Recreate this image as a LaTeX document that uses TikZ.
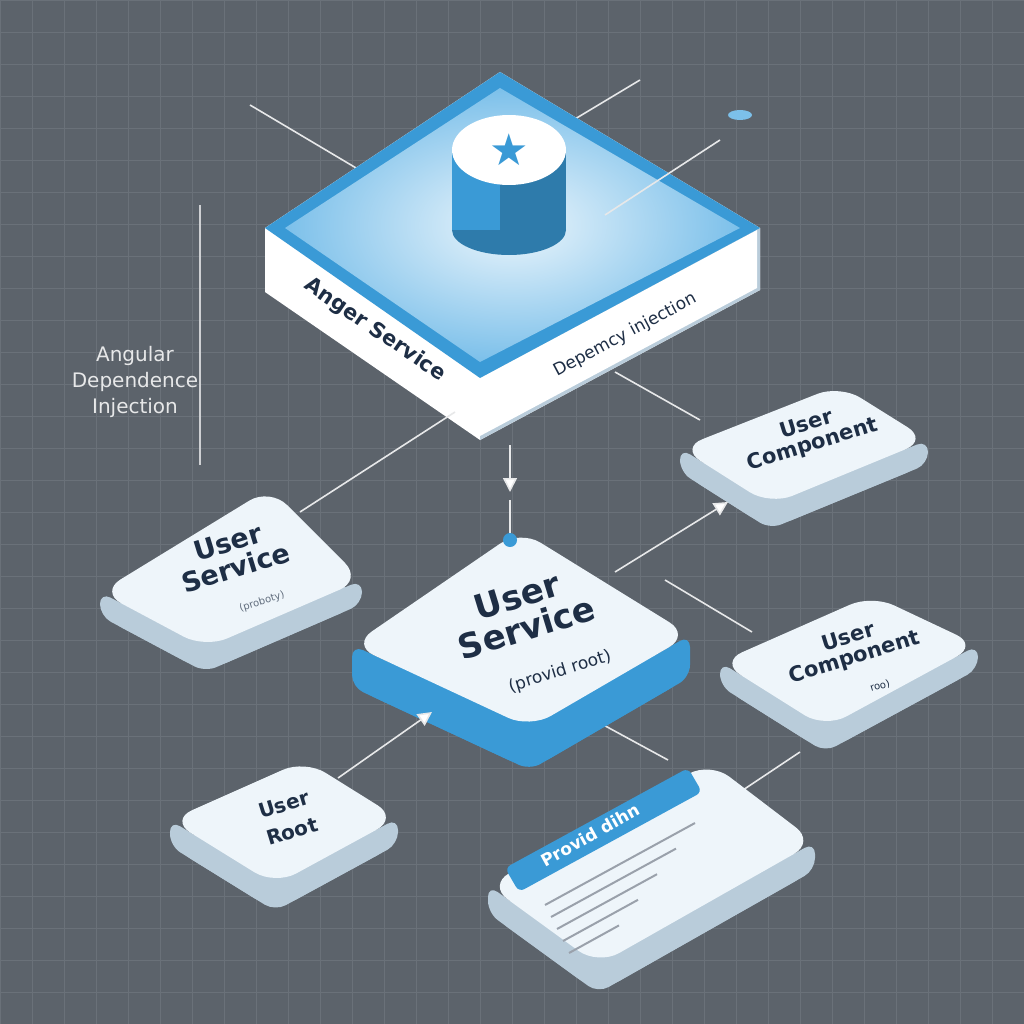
\documentclass[tikz,border=0pt]{standalone}
\usepackage{fontspec}
\setmainfont{DejaVu Sans}
\usetikzlibrary{arrows.meta,calc}
\definecolor{bg}{HTML}{5C636B}
\definecolor{gridc}{HTML}{6A7179}
\definecolor{cardtop}{HTML}{EEF5FA}
\definecolor{cardside}{HTML}{B9CCDA}
\definecolor{blueA}{HTML}{3A9AD6}
\definecolor{blueB}{HTML}{7CC0EA}
\definecolor{navy}{HTML}{1E2E45}
\tikzset{
 cardface/.style={fill=cardtop, rounded corners=24pt},
 cardbase/.style={fill=cardside, rounded corners=24pt},
 conn/.style={draw=white!85!bg, line width=1.6pt},
 connarr/.style={conn, -{Triangle[length=14pt,width=14pt,fill=white]}},
 lbl/.style={font=\bfseries, text=navy, align=center},
}
% name, L, T, R, B, thickness, side colour
\newcommand{\isocard}[7]{%
 \fill[cardbase, fill=#7] ($#2+(0,#6)$) -- ($#3+(0,#6)$) -- ($#4+(0,#6)$) -- ($#5+(0,#6)$) -- cycle;
 \fill[cardbase, fill=#7, rounded corners=12pt] #2 -- ($#2+(0,#6)$) -- ($#5+(0,#6)$) -- ($#4+(0,#6)$) -- #4 -- #5 -- cycle;
 \fill[cardface] #2 -- #3 -- #4 -- #5 -- cycle;
 \coordinate (#1) at ($#2!0.5!#4$);}
\begin{document}
\begin{tikzpicture}[x=1pt,y=-1pt]
\useasboundingbox (0,0) rectangle (1024,1024);
\fill[bg] (0,0) rectangle (1024,1024);
\foreach \i in {0,32,...,1024} {\draw[gridc,line width=0.8pt] (\i,0)--(\i,1024); \draw[gridc,line width=0.8pt] (0,\i)--(1024,\i);}
% rays behind
\draw[conn] (250,105) -- (410,200);
\draw[conn] (565,125) -- (640,80);
\fill[blueB] (740,115) ellipse (12 and 5);
% platform
\fill[white] (265,228) -- (500,72) -- (760,228) -- (760,290) -- (480,440) -- (265,292) -- cycle;
\fill[cardside] (480,378) -- (480,440) -- (760,290) -- (760,228) -- cycle;
\fill[white] (480,378) -- (480,436) -- (757,288) -- (757,230) -- cycle;
\fill[blueA] (265,228) -- (500,72) -- (760,228) -- (480,378) -- cycle;
\shade[inner color=white!85!blueB, outer color=blueB] (285,228) -- (500,88) -- (740,228) -- (480,362) -- cycle;
\node[lbl, font=\bfseries\fontsize{21}{21}\selectfont, rotate=-34.5] (p1) at (375,330) {Anger Service};
\node[lbl, font=\fontsize{17}{17}\selectfont, rotate=28] (p2) at (625,335) {Depemcy injection};
% cylinder
\fill[blueA!80!black] (452,150) rectangle (566,230);
\fill[blueA!80!black] (509,230) ellipse (57 and 25);
\fill[blueA] (452,150) rectangle (500,230);
\fill[white] (509,150) ellipse (57 and 35);
\node[text=blueA, font=\fontsize{44}{44}\selectfont] (star) at (509,150) {★};
\draw[conn] (605,215) -- (720,140);
% side title
\draw[conn, white!70!bg] (200,205) -- (200,465);
\node[align=center, text=white!85!bg, font=\fontsize{20}{26}\selectfont] (title) at (135,382) {Angular\\Dependence\\Injection};
% connectors behind cards
\coordinate (a1) at (300,512); \coordinate (a2) at (455,412);
\draw[conn] (a1) -- (a2);
\coordinate (b1) at (615,372); \coordinate (b2) at (700,420);
\draw[conn] (b1) -- (b2);
\coordinate (f1) at (598,722); \coordinate (f2) at (668,760);
\draw[conn] (f1) -- (f2);
\coordinate (g1) at (740,792); \coordinate (g2) at (800,752);
\draw[conn] (g1) -- (g2);
\coordinate (h1) at (665,580); \coordinate (h2) at (752,632);
\draw[conn] (h1) -- (h2);
% cards
\isocard{us}{(100,592)}{(270,488)}{(362,580)}{(205,648)}{24}{cardside}
\isocard{uc1}{(680,448)}{(840,385)}{(928,440)}{(770,505)}{24}{cardside}
\isocard{uc2}{(720,662)}{(872,595)}{(978,645)}{(825,728)}{24}{cardside}
\isocard{ur}{(170,820)}{(305,760)}{(398,818)}{(275,885)}{26}{cardside}
\isocard{cs}{(352,645)}{(520,530)}{(690,635)}{(530,728)}{42}{blueA}
\isocard{dc}{(488,885)}{(710,762)}{(815,842)}{(598,965)}{28}{cardside}
% doc details
\fill[blueA, rounded corners=6pt] (505,868) -- (688,768) -- (702,792) -- (519,892) -- cycle;
\node[font=\bfseries\fontsize{17}{17}\selectfont, text=white, rotate=29] (pd) at (590,835) {Provid dihn};
\foreach \k in {0,1,2,3,4} \draw[navy!45, line width=2pt] ($(545,905)+(6*\k,12*\k)$) -- ++({150-25*\k},{-82+13.6*\k});
% labels
\node[lbl, font=\bfseries\fontsize{27}{27}\selectfont, rotate=17] (t1) at (232,555) {User\\Service};
\node[text=navy!70, rotate=17] (t1b) at (262,602) {(proboty)};
\node[lbl, font=\bfseries\fontsize{34}{33}\selectfont, rotate=17] (t2) at (522,612) {User\\Service};
\node[text=navy, font=\fontsize{17}{17}\selectfont, rotate=17] (t2b) at (560,672) {(provid root)};
\node[lbl, font=\bfseries\fontsize{21}{21}\selectfont, rotate=17] (t3) at (810,435) {User\\Component};
\node[lbl, font=\bfseries\fontsize{21}{21}\selectfont, rotate=17] (t4) at (852,648) {User\\Component};
\node[text=navy, rotate=17] (t4b) at (880,686) {roo)};
\node[lbl, font=\bfseries\fontsize{20}{28}\selectfont, rotate=17] (t5) at (288,818) {User\\Root};
% arrows on top
\coordinate (c1) at (510,445); \coordinate (c2) at (510,492);
\draw[connarr] (c1) -- (c2);
\draw[conn] (510,500) -- (510,535);
\fill[blueA] (510,540) circle (7);
\coordinate (d1) at (615,572); \coordinate (d2) at (728,502);
\draw[connarr] (d1) -- (d2);
\coordinate (e1) at (338,778); \coordinate (e2) at (432,712);
\draw[connarr] (e1) -- (e2);
\end{tikzpicture}
\end{document}
